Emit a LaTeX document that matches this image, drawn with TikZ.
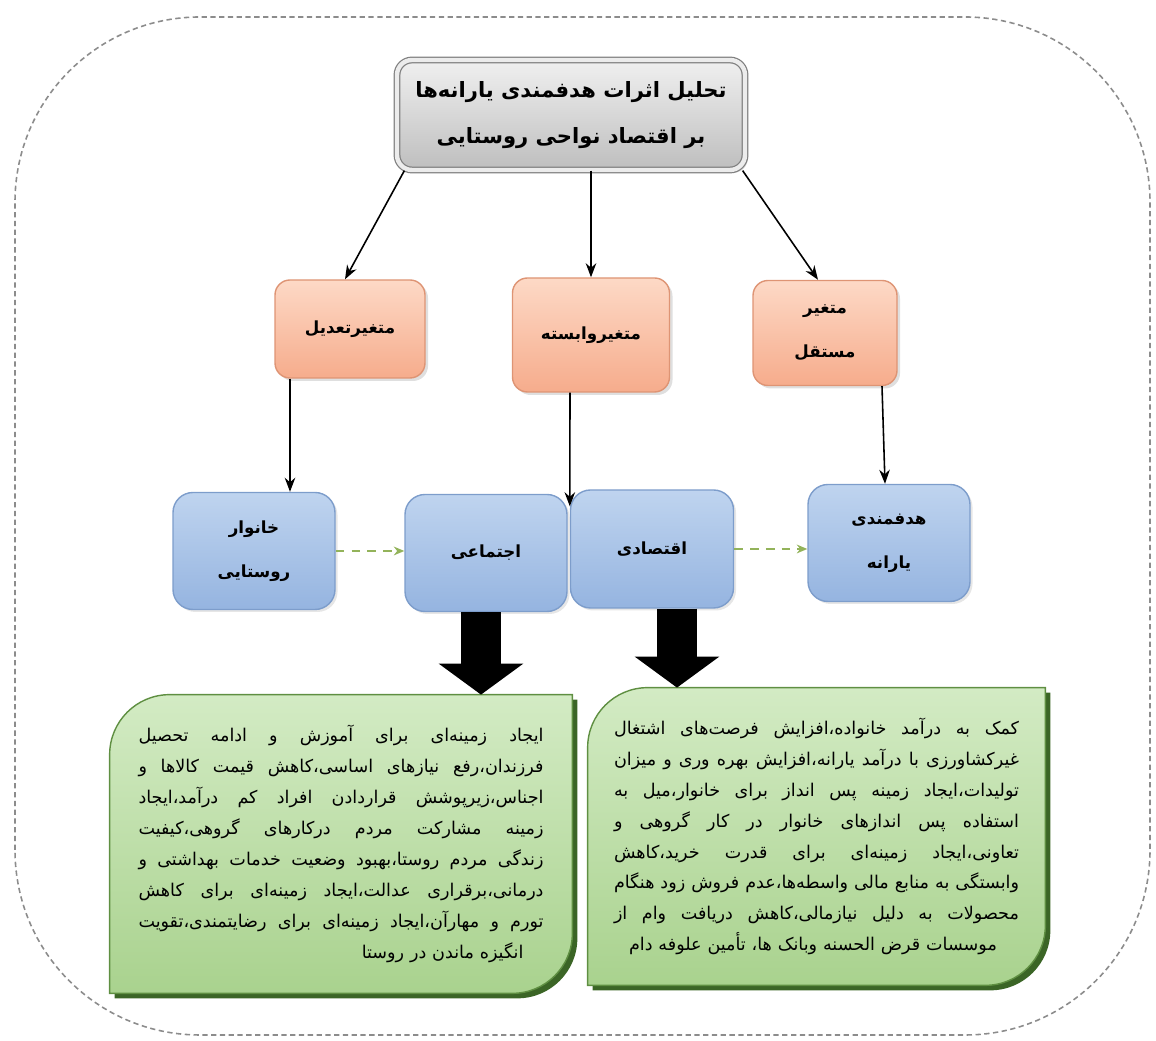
\documentclass[tikz,border=0pt]{standalone}
\usepackage{fontspec}
\usepackage{tikz}
\usetikzlibrary{arrows.meta,shadows,backgrounds}

\newfontfamily\arabicfont[Script=Arabic]{DejaVu Sans}
\TeXXeTstate=1

\newcommand{\rtl}[1]{\beginR #1\endR}
\newcommand{\widespaces}{\spaceskip=0.3em plus 4em minus 0.08em\relax}
\newcommand{\jline}[1]{\hbox to \hsize{\widespaces\beginR #1\endR}}
\newcommand{\jlast}[1]{\hbox to \hsize{\hfill\beginR #1\endR\hspace*{0.4cm}}}
\newcommand{\jfirst}[1]{\hbox to \hsize{\hspace*{0.3cm}\beginR #1\endR\hfill}}

\definecolor{frameline}{HTML}{8C8C8C}
\definecolor{titletop}{HTML}{F0F0F0}
\definecolor{titlebot}{HTML}{BEBEBE}
\definecolor{titleline}{HTML}{808080}
\definecolor{vartop}{HTML}{FDD9C6}
\definecolor{varbot}{HTML}{F6AC8C}
\definecolor{varline}{HTML}{DE9474}
\definecolor{dimtop}{HTML}{BFD4EF}
\definecolor{dimbot}{HTML}{95B4E0}
\definecolor{dimline}{HTML}{7D9DCB}
\definecolor{effecttop}{HTML}{D3EBC4}
\definecolor{effectbot}{HTML}{A9D28E}
\definecolor{effectline}{HTML}{5F8F42}
\definecolor{effectedge}{HTML}{3B6526}
\definecolor{linkgreen}{HTML}{93B35A}

\tikzset{
  titlebox/.style={rectangle, rounded corners=0.3cm, draw=titleline, line width=0.7pt,
    double=white!85!gray, double distance=2.5pt, top color=titletop, bottom color=titlebot,
    minimum width=6.96cm, minimum height=2.2cm, align=center,
    font=\arabicfont\bfseries\fontsize{12}{26}\selectfont,
    drop shadow={opacity=0.25, shadow xshift=0.06cm, shadow yshift=-0.06cm}},
  varbox/.style={rectangle, rounded corners=0.3cm, draw=varline, line width=0.8pt,
    top color=vartop, bottom color=varbot, align=center,
    font=\arabicfont\bfseries\fontsize{9.5}{25}\selectfont,
    drop shadow={opacity=0.25, shadow xshift=0.06cm, shadow yshift=-0.06cm}},
  dimbox/.style={rectangle, rounded corners=0.4cm, draw=dimline, line width=0.8pt,
    top color=dimtop, bottom color=dimbot, align=center,
    minimum width=3.24cm, minimum height=2.34cm,
    font=\arabicfont\bfseries\fontsize{9.5}{25}\selectfont,
    drop shadow={opacity=0.2, shadow xshift=0.05cm, shadow yshift=-0.05cm}},
  effect/.style={rectangle, text width=8.1cm, font=\arabicfont\fontsize{10}{17.6}\selectfont},
  conn/.style={draw=black, line width=0.9pt, -{Stealth[length=8pt,width=6pt]}},
  link/.style={draw=linkgreen, line width=0.9pt, dash pattern=on 5pt off 4pt,
    -{Stealth[length=6pt,width=5pt]}},
  bigarrow/.style={draw=black, line width=0.8cm, -{Triangle[length=0.62cm,width=1.66cm]}}
}

\begin{document}
\begin{tikzpicture}
\useasboundingbox (0,0) rectangle (23.12,20.82);
\draw[frameline, line width=0.9pt, dash pattern=on 3pt off 2pt, rounded corners=3.7cm]
  (0.3,0.12) rectangle (23.0,20.48);

\node[titlebox] (title) at (11.42,18.52)
  {\rtl{تحلیل اثرات هدفمندی یارانه‌ها}\\\rtl{بر اقتصاد نواحی روستایی}};

\node[varbox, minimum width=3cm, minimum height=1.96cm] (modL) at (7.0,14.24) {\rtl{متغیرتعدیل}};
\node[varbox, minimum width=3.14cm, minimum height=2.28cm] (dep) at (11.82,14.12) {\rtl{متغیروابسته}};
\node[varbox, minimum width=2.88cm, minimum height=2.1cm] (ind) at (16.5,14.16) {\rtl{متغیر}\\\rtl{مستقل}};

\node[dimbox] (rural) at (5.08,9.8) {\rtl{خانوار}\\\rtl{روستایی}};
\node[dimbox] (soc) at (9.72,9.76) {\rtl{اجتماعی}};
\node[dimbox, minimum width=3.26cm, minimum height=2.36cm] (eco) at (13.04,9.84) {\rtl{اقتصادی}};
\node[dimbox] (subs) at (17.78,9.96) {\rtl{هدفمندی}\\\rtl{یارانه}};

\node[effect, minimum width=9.24cm, minimum height=5.96cm] (greenL) at (6.82,3.94) {%
  \jline{ایجاد زمینه‌ای برای آموزش و ادامه تحصیل}
  \jline{فرزندان،رفع نیازهای اساسی،کاهش قیمت کالاها و}
  \jline{اجناس،زیرپوشش قراردادن افراد کم درآمد،ایجاد}
  \jline{زمینه مشارکت مردم درکارهای گروهی،کیفیت}
  \jline{زندگی مردم روستا،بهبود وضعیت خدمات بهداشتی و}
  \jline{درمانی،برقراری عدالت،ایجاد زمینه‌ای برای کاهش}
  \jline{تورم و مهارآن،ایجاد زمینه‌ای برای رضایتمندی،تقویت}
  \jlast{انگیزه ماندن در روستا}};
\node[effect, minimum width=9.14cm, minimum height=5.94cm] (greenR) at (16.33,4.09) {%
  \jline{کمک به درآمد خانواده،افزایش فرصت‌های اشتغال}
  \jline{غیرکشاورزی با درآمد یارانه،افزایش بهره وری و میزان}
  \jline{تولیدات،ایجاد زمینه پس انداز برای خانوار،میل به}
  \jline{استفاده پس اندازهای خانوار در کار گروهی و}
  \jline{تعاونی،ایجاد زمینه‌ای برای قدرت خرید،کاهش}
  \jline{وابستگی به منابع مالی واسطه‌ها،عدم فروش زود هنگام}
  \jline{محصولات به دلیل نیازمالی،کاهش دریافت وام از}
  \jfirst{موسسات قرض الحسنه وبانک ها، تأمین علوفه دام}};

\begin{scope}[on background layer]
\foreach \n in {greenL,greenR}{
  \fill[effectedge] ([shift={(0.1cm,-0.1cm)}]\n.north east) -- ([shift={(0.1cm,1.1cm)}]\n.south east)
    arc[start angle=0,end angle=-90,radius=1.2cm] -- ([shift={(0.1cm,-0.1cm)}]\n.south west)
    -- ([shift={(0.1cm,-1.3cm)}]\n.north west) arc[start angle=180,end angle=90,radius=1.2cm] -- cycle;
  \path[draw=effectline, line width=0.8pt, top color=effecttop, bottom color=effectbot]
    (\n.north east) -- ([yshift=1.2cm]\n.south east) arc[start angle=0,end angle=-90,radius=1.2cm]
    -- (\n.south west) -- ([yshift=-1.2cm]\n.north west) arc[start angle=180,end angle=90,radius=1.2cm] -- cycle;
}
\end{scope}

\draw[conn] ([xshift=0.16cm]title.south west) -- ([xshift=-0.1cm]modL.north);
\draw[conn] (title.south -| dep.north) -- (dep.north);
\draw[conn] ([xshift=-0.06cm]title.south east) -- ([xshift=-0.14cm]ind.north);
\draw[conn] ([xshift=-1.2cm]modL.south) -- ([xshift=-1.2cm]modL.south |- rural.north);
\draw[conn] ([xshift=-0.42cm]dep.south) -- ([yshift=-0.34cm]eco.north west);
\draw[conn] ([xshift=1.14cm]ind.south) -- ([xshift=-0.08cm]subs.north);

\draw[link] (rural.east) -- (rural.east -| soc.west);
\draw[link] (eco.east) -- (eco.east -| subs.west);

\draw[bigarrow] ([xshift=-0.1cm]soc.south) -- ([xshift=-0.1cm]soc.south |- greenL.north);
\draw[bigarrow] ([xshift=0.5cm]eco.south) -- ([xshift=0.5cm]eco.south |- greenR.north);
\end{tikzpicture}
\end{document}
